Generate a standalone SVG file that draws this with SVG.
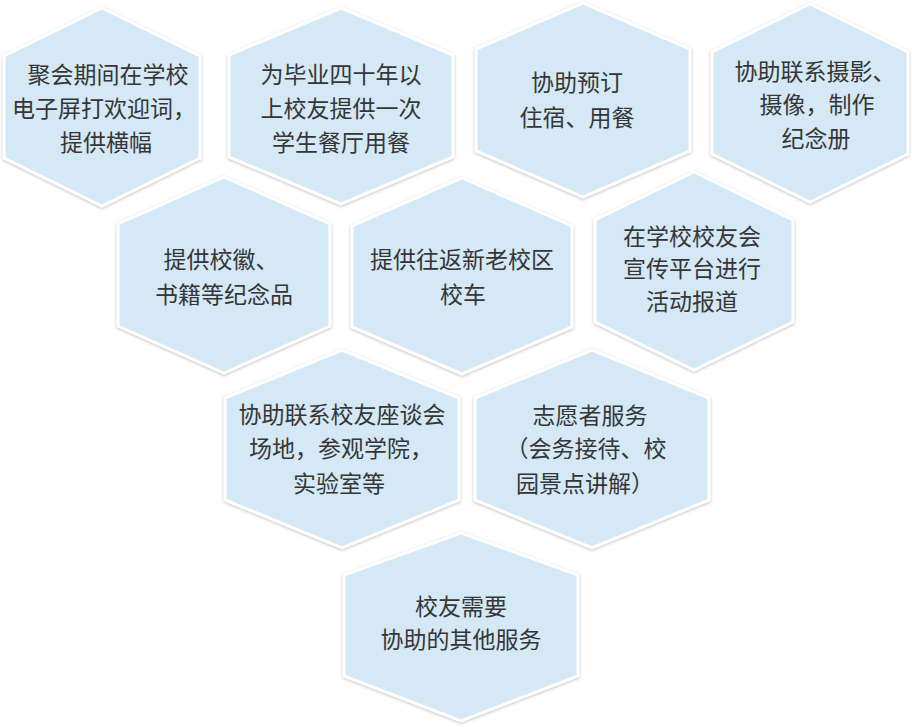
<svg xmlns="http://www.w3.org/2000/svg" width="912" height="727" viewBox="0 0 912 727">
<defs>
<filter id="sh" x="-10%" y="-10%" width="120%" height="120%">
<feDropShadow dx="0" dy="1" stdDeviation="1.6" flood-color="#8a8a8a" flood-opacity="0.55"/>
</filter>
<style>
.hex{fill:#d4e8f6;stroke:#ffffff;stroke-width:3;stroke-linejoin:miter;filter:url(#sh)}
.t{font-family:"Noto Sans CJK SC","Noto Sans",sans-serif;font-size:23px;fill:#363636;text-anchor:middle}
</style>
</defs>
<rect width="912" height="727" fill="#ffffff"/>
<g id="connectors"/>
<g id="n1"><polygon class="hex" points="102,8 200,56 200,158 102,206 4,158 4,56"/>
<text class="t"><tspan x="108" y="83">聚会期间在学校</tspan><tspan x="104" y="117">电子屏打欢迎词，</tspan><tspan x="106" y="151">提供横幅</tspan></text></g>
<g id="n2"><polygon class="hex" points="341,8 453,55 453,157 341,204 229,157 229,55"/>
<text class="t"><tspan x="341" y="83">为毕业四十年以</tspan><tspan x="341" y="117">上校友提供一次</tspan><tspan x="341" y="151">学生餐厅用餐</tspan></text></g>
<g id="n3"><polygon class="hex" points="583,3 690,49 690,151 583,197 476,151 476,49"/>
<text class="t"><tspan x="577" y="91">协助预订</tspan><tspan x="577" y="126">住宿、用餐</tspan></text></g>
<g id="n4"><polygon class="hex" points="810,4 908,52 908,154 810,202 712,154 712,52"/>
<text class="t"><tspan x="815" y="80">协助联系摄影、</tspan><tspan x="817" y="113">摄像，制作</tspan><tspan x="816" y="147">纪念册</tspan></text></g>
<g id="n5"><polygon class="hex" points="224,177 330,224 330,326 224,373 118,326 118,224"/>
<text class="t"><tspan x="221" y="268">提供校徽、</tspan><tspan x="224" y="303">书籍等纪念品</tspan></text></g>
<g id="n6"><polygon class="hex" points="462,178 572,226 572,327 462,374 352,327 352,226"/>
<text class="t"><tspan x="462" y="268">提供往返新老校区</tspan><tspan x="463" y="303">校车</tspan></text></g>
<g id="n7"><polygon class="hex" points="694,172 793,220 793,322 694,370 595,322 595,220"/>
<text class="t"><tspan x="692" y="245">在学校校友会</tspan><tspan x="692" y="277">宣传平台进行</tspan><tspan x="692" y="310">活动报道</tspan></text></g>
<g id="n8"><polygon class="hex" points="342,350 459,398 459,500 342,548 225,500 225,398"/>
<text class="t"><tspan x="342" y="423">协助联系校友座谈会</tspan><tspan x="341" y="457">场地，参观学院，</tspan><tspan x="339" y="492">实验室等</tspan></text></g>
<g id="n9"><polygon class="hex" points="592,350 709,398 709,500 592,548 475,500 475,398"/>
<text class="t"><tspan x="590" y="424">志愿者服务</tspan><tspan x="586" y="457">（会务接待、校</tspan><tspan x="585" y="492">园景点讲解）</tspan></text></g>
<g id="n10"><polygon class="hex" points="461,533 578,575 578,676 461,721 344,676 344,575"/>
<text class="t"><tspan x="461" y="615">校友需要</tspan><tspan x="461" y="648">协助的其他服务</tspan></text></g>
</svg>
